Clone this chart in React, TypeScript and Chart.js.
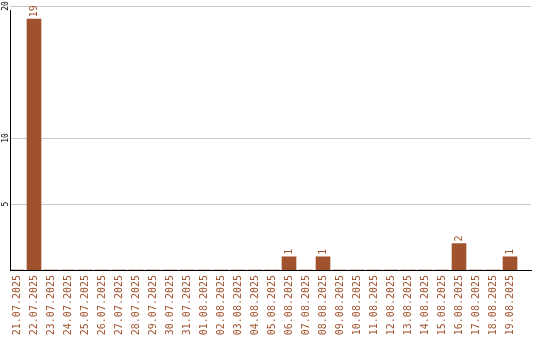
import React, { useEffect, useRef } from "react";
import { Chart, registerables } from "chart.js";

Chart.register(...registerables);

// Daily counts, one entry per date
const dates: string[] = [
  "21.07.2025", "22.07.2025", "23.07.2025", "24.07.2025", "25.07.2025",
  "26.07.2025", "27.07.2025", "28.07.2025", "29.07.2025", "30.07.2025",
  "31.07.2025", "01.08.2025", "02.08.2025", "03.08.2025", "04.08.2025",
  "05.08.2025", "06.08.2025", "07.08.2025", "08.08.2025", "09.08.2025",
  "10.08.2025", "11.08.2025", "12.08.2025", "13.08.2025", "14.08.2025",
  "15.08.2025", "16.08.2025", "17.08.2025", "18.08.2025", "19.08.2025",
];

const counts: number[] = [
  0, 19, 0, 0, 0, 0, 0, 0, 0, 0,
  0, 0, 0, 0, 0, 0, 1, 0, 1, 0,
  0, 0, 0, 0, 0, 0, 2, 0, 0, 1,
];

const yTicks: number[] = [5, 10, 20];

const BAR_COLOR = "#a0522d";
const MONO = "'DejaVu Sans Mono', monospace";

// Writes each non-zero value above its bar, turned to read upward
const valueLabels = {
  id: "valueLabels",
  afterDatasetsDraw(chart: any) {
    const { ctx } = chart;
    const meta = chart.getDatasetMeta(0);
    ctx.save();
    ctx.fillStyle = BAR_COLOR;
    ctx.font = `10px ${MONO}`;
    ctx.textAlign = "left";
    ctx.textBaseline = "middle";
    meta.data.forEach((bar: any, i: number) => {
      const v = counts[i];
      if (!v) return;
      ctx.save();
      ctx.translate(bar.x, bar.y - 2);
      ctx.rotate(-Math.PI / 2);
      ctx.fillText(String(v), 0, 0);
      ctx.restore();
    });
    ctx.restore();
  },
};

// Vertical axis line that stops a little short of the top grid line
const leftAxisLine = {
  id: "leftAxisLine",
  afterDraw(chart: any) {
    const { ctx, chartArea } = chart;
    const x = Math.round(chartArea.left) + 0.5;
    ctx.save();
    ctx.strokeStyle = "#000000";
    ctx.lineWidth = 1;
    ctx.beginPath();
    ctx.moveTo(x, chartArea.top + 4);
    ctx.lineTo(x, chartArea.bottom);
    ctx.stroke();
    ctx.restore();
  },
};

export default function App() {
  const canvasRef = useRef<HTMLCanvasElement | null>(null);

  useEffect(() => {
    if (!canvasRef.current) return;
    const chart = new Chart(canvasRef.current, {
      type: "bar",
      data: {
        datasets: [
          {
            data: counts.map((v, i) => ({ x: i + 1, y: v })),
            backgroundColor: BAR_COLOR,
            barThickness: 14,
          },
        ],
      },
      options: {
        animation: false,
        responsive: false,
        events: [],
        layout: { padding: { top: 6, right: 9, left: 0, bottom: 0 } },
        plugins: {
          legend: { display: false },
          tooltip: { enabled: false },
        },
        scales: {
          x: {
            type: "linear",
            offset: false,
            min: 10 / 17,
            max: 531 / 17,
            grid: { display: false, drawTicks: false },
            border: { display: true, color: "#000000", width: 1 },
            afterBuildTicks: (scale: any) => {
              scale.ticks = dates.map((_, i) => ({ value: i + 1 }));
            },
            afterFit: (scale: any) => {
              scale.height = 70;
            },
            ticks: {
              autoSkip: false,
              minRotation: 90,
              maxRotation: 90,
              padding: 5,
              color: BAR_COLOR,
              font: { family: MONO, size: 10 },
              callback: (_v: any, index: number) => dates[index] ?? "",
            },
          },
          y: {
            min: 0,
            max: 20,
            grid: { color: "#c8c8c8", drawTicks: false, lineWidth: 1 },
            border: { display: false },
            afterBuildTicks: (scale: any) => {
              scale.ticks = yTicks.map((v) => ({ value: v }));
            },
            afterFit: (scale: any) => {
              scale.width = 10;
            },
            ticks: {
              minRotation: 90,
              maxRotation: 90,
              padding: -1,
              crossAlign: "center",
              color: "#000000",
              font: { family: MONO, size: 8 },
            },
          },
        },
      },
      plugins: [valueLabels, leftAxisLine],
    });
    return () => chart.destroy();
  }, []);

  return (
    <div style={{ position: "fixed", left: 0, top: 0, width: 540, height: 340, background: "#ffffff" }}>
      <canvas ref={canvasRef} width={540} height={340} style={{ display: "block" }} />
    </div>
  );
}
